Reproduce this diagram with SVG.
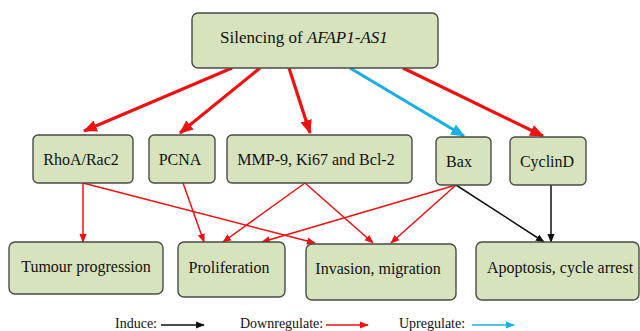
<svg xmlns="http://www.w3.org/2000/svg" width="640" height="331" viewBox="0 0 640 331">
<style>
.box{fill:#d7e3bc;stroke:#4a4a4a;stroke-width:1.4}
.t{font-family:'Liberation Serif','DejaVu Serif',serif;font-size:16px;fill:#111}
.big{font-size:17px}
.lg{font-family:'Liberation Serif','DejaVu Serif',serif;font-size:14px;fill:#111}
.thick{fill:none;stroke-width:3.2}
.thin{fill:none;stroke-width:1.5}
.red{stroke:#f01010}
.blue{stroke:#1aaee6}
.blk{stroke:#111}
</style>
<defs>
<marker id="hr" markerUnits="userSpaceOnUse" markerWidth="14" markerHeight="14" viewBox="0 0 12 10" refX="11" refY="5" orient="auto"><path d="M0,0L12,5L0,10z" fill="#f01010"/></marker>
<marker id="hb" markerUnits="userSpaceOnUse" markerWidth="14" markerHeight="14" viewBox="0 0 12 10" refX="11" refY="5" orient="auto"><path d="M0,0L12,5L0,10z" fill="#1aaee6"/></marker>
<marker id="sr" markerUnits="userSpaceOnUse" markerWidth="9" markerHeight="9" viewBox="0 0 10 8" refX="9" refY="4" orient="auto"><path d="M0,0L10,4L0,8z" fill="#f01010"/></marker>
<marker id="sk" markerUnits="userSpaceOnUse" markerWidth="9" markerHeight="9" viewBox="0 0 10 8" refX="9" refY="4" orient="auto"><path d="M0,0L10,4L0,8z" fill="#111"/></marker>
<marker id="sb" markerUnits="userSpaceOnUse" markerWidth="9" markerHeight="9" viewBox="0 0 10 8" refX="9" refY="4" orient="auto"><path d="M0,0L10,4L0,8z" fill="#1aaee6"/></marker>
</defs>
<g id="connectors">
<line class="thick red" x1="232" y1="68" x2="84" y2="131" marker-end="url(#hr)"/>
<line class="thick red" x1="260" y1="68" x2="180" y2="133" marker-end="url(#hr)"/>
<line class="thick red" x1="289" y1="68" x2="310" y2="133" marker-end="url(#hr)"/>
<line class="thick blue" x1="350" y1="68" x2="464" y2="136" marker-end="url(#hb)"/>
<line class="thick red" x1="403" y1="68" x2="543" y2="136" marker-end="url(#hr)"/>
<line class="thin red" x1="83" y1="183" x2="83" y2="242" marker-end="url(#sr)"/>
<line class="thin red" x1="83" y1="183" x2="315" y2="243" marker-end="url(#sr)"/>
<line class="thin red" x1="183" y1="183" x2="204" y2="242" marker-end="url(#sr)"/>
<line class="thin red" x1="305" y1="183" x2="223" y2="242" marker-end="url(#sr)"/>
<line class="thin red" x1="305" y1="183" x2="373" y2="243" marker-end="url(#sr)"/>
<line class="thin red" x1="456" y1="185" x2="262" y2="242" marker-end="url(#sr)"/>
<line class="thin red" x1="456" y1="185" x2="391" y2="243" marker-end="url(#sr)"/>
<line class="thin blk" x1="456" y1="185" x2="544" y2="242" marker-end="url(#sk)"/>
<line class="thin blk" x1="551" y1="185" x2="551" y2="242" marker-end="url(#sk)"/>
</g>
<g id="n-silencing"><rect class="box" x="192" y="13" width="246" height="55" rx="6"/><text class="t big" x="220" y="43">Silencing of <tspan font-style="italic">AFAP1-AS1</tspan></text></g>
<g id="n-rhoa"><rect class="box" x="33" y="135" width="100" height="48" rx="5"/><text class="t" x="81" y="165" text-anchor="middle">RhoA/Rac2</text></g>
<g id="n-pcna"><rect class="box" x="149" y="135" width="66" height="48" rx="5"/><text class="t" x="180" y="165" text-anchor="middle">PCNA</text></g>
<g id="n-mmp"><rect class="box" x="227" y="135" width="185" height="48" rx="5"/><text class="t" x="316" y="165" text-anchor="middle">MMP-9, Ki67 and Bcl-2</text></g>
<g id="n-bax"><rect class="box" x="436" y="137" width="55" height="48" rx="5"/><text class="t" x="459" y="167" text-anchor="middle">Bax</text></g>
<g id="n-cyclind"><rect class="box" x="510" y="137" width="76" height="48" rx="5"/><text class="t" x="547" y="167" text-anchor="middle">CyclinD</text></g>
<g id="n-tumour"><rect class="box" x="9" y="242" width="154" height="52" rx="6"/><text class="t" x="86" y="272" text-anchor="middle">Tumour progression</text></g>
<g id="n-prolif"><rect class="box" x="178" y="242" width="107" height="55" rx="6"/><text class="t" x="229" y="272.5" text-anchor="middle">Proliferation</text></g>
<g id="n-invasion"><rect class="box" x="306" y="244" width="150" height="56" rx="6"/><text class="t" x="378" y="274" text-anchor="middle">Invasion, migration</text></g>
<g id="n-apoptosis"><rect class="box" x="476" y="242" width="163" height="58" rx="6"/><text class="t" x="560" y="273" text-anchor="middle">Apoptosis, cycle arrest</text></g>
<g id="legend">
<text class="lg" x="115" y="328">Induce:</text>
<line class="thin blk" x1="161" y1="325" x2="204" y2="325" marker-end="url(#sk)"/>
<text class="lg" x="240" y="328">Downregulate:</text>
<line class="thin red" x1="326" y1="325" x2="368" y2="325" marker-end="url(#sr)"/>
<text class="lg" x="399" y="328">Upregulate:</text>
<line class="thin blue" x1="472" y1="325" x2="514" y2="325" marker-end="url(#sb)"/>
</g>
</svg>
